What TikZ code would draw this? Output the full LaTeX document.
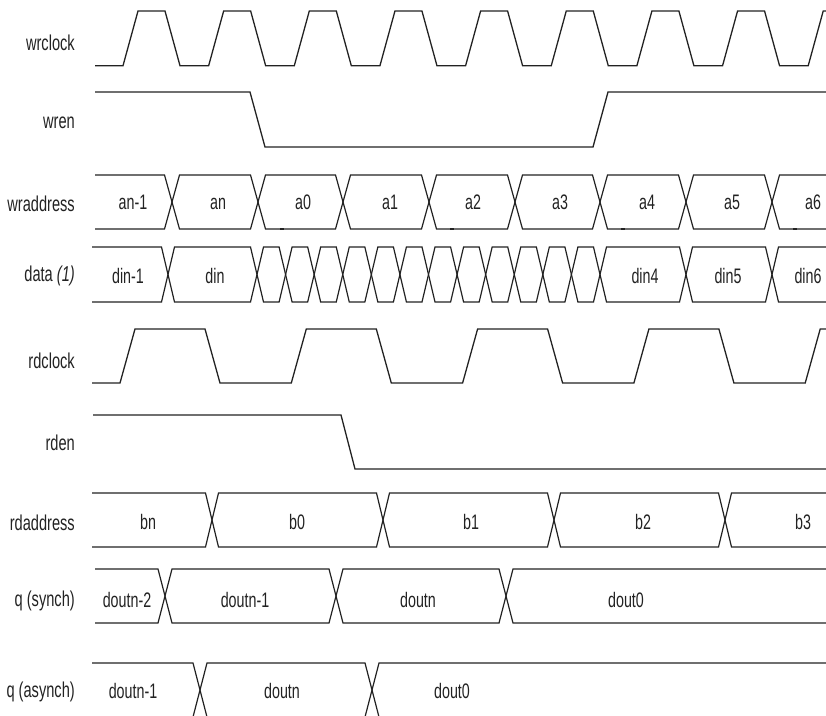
\documentclass[tikz,border=0pt]{standalone}
\usepackage{fontspec}
\setmainfont{Liberation Sans}[FakeStretch=0.68]
\usepackage{tikz}
\usetikzlibrary{positioning}
\definecolor{waveInk}{RGB}{34,34,34}
\tikzset{
  % clock and enable traces
  wave/.style={draw=waveInk, line width=1.3pt, line join=miter},
  % outline of one bus value slot
  busline/.style={draw=waveInk, line width=1.2pt, line join=miter},
  % small marks sitting on the wraddress bottom edge
  tick/.style={draw=waveInk, line width=2.4pt},
  % signal names at the left
  signame/.style={font=\fontsize{21.5}{24}\selectfont, text=waveInk, anchor=base east, inner sep=0pt},
  % values written inside a bus slot
  busval/.style={font=\fontsize{21}{24}\selectfont, text=waveInk, anchor=base, inner sep=0pt},
}
% half width of a bus crossing
\def\busw{7}
% first slot of a bus: flat start at #1, crossing at #2, top #3, bottom #4
\newcommand{\busfirst}[4]{%
  \draw[busline] ({#1},{#3}) -- ({#2-\busw},{#3}) -- ({#2},{(#3+#4)/2})
    -- ({#2-\busw},{#4}) -- ({#1},{#4});}
% one slot of a bus between crossings #1 and #2, top #3, bottom #4
\newcommand{\busslot}[4]{%
  \draw[busline] ({#1},{(#3+#4)/2}) -- ({#1+\busw},{#3}) -- ({#2-\busw},{#3}) -- ({#2},{(#3+#4)/2})
    -- ({#2-\busw},{#4}) -- ({#1+\busw},{#4}) -- cycle;}

\begin{document}
\begin{tikzpicture}[x=1pt, y=-1pt]
\useasboundingbox (0,0) rectangle (826,715);

% ===========================================================================
% SIGNAL NAMES
% ===========================================================================
\node[signame] (n_wrclock)   at (75,50)  {wrclock};
\node[signame] (n_wren)      at (75,128) {wren};
\node[signame] (n_wraddress) at (75,211) {wraddress};
\node[signame] (n_data)      at (75,281) {data \textit{(1)}};
\node[signame] (n_rdclock)   at (75,368) {rdclock};
\node[signame] (n_rden)      at (75,450) {rden};
\node[signame] (n_rdaddress) at (75,530) {rdaddress};
\node[signame] (n_qsync)     at (75,606) {q (synch)};
\node[signame] (n_qasync)    at (75,697) {q (asynch)};

\begin{scope}
\clip (0,0) rectangle (826,715);

% ===========================================================================
% WRITE SIDE: wrclock, wren
% ===========================================================================
\draw[wave] (95,65.7) -- (123,65.7)
  \foreach \k in {0,...,8} { -- ++(15,-54.7) -- ++(27,0) -- ++(15,54.7) -- ++(28.65,0) };
\draw[wave] (95,92) -- (250,92) -- (265,147) -- (593,147) -- (608,92) -- (826,92);

% ===========================================================================
% wraddress
% ===========================================================================
\def\busw{7.5}
\busfirst{95}{172}{175}{229}
\foreach \a/\b in {172/258, 258/343, 343/429, 429/515, 515/600, 600/686, 686/772, 772/858}
  {\busslot{\a}{\b}{175}{229}}
\foreach \x in {282, 452, 623, 795}
  \draw[tick] (\x-2,229) -- (\x+2,229);
\foreach \x/\t [count=\i] in {133/an-1, 218/an, 303/a0, 390/a1, 473/a2, 560/a3, 647/a4, 732/a5, 813/a6}
  \node[busval] (wa\i) at (\x,209) {\t};

% ===========================================================================
% data (1): known words, then changing data while wren is low
% ===========================================================================
\def\busw{6.5}
\busfirst{92}{168}{247}{302}
\busslot{168}{257}{247}{302}
\foreach \k in {0,...,11}
  {\busslot{257+28.583*\k}{257+28.583*(\k+1)}{247}{302}}
\foreach \a/\b in {600/686, 686/772, 772/858}
  {\busslot{\a}{\b}{247}{302}}
\foreach \x/\t [count=\i] in {128/din-1, 215/din, 645/din4, 728/din5, 808/din6}
  \node[busval] (d\i) at (\x,283) {\t};

% ===========================================================================
% READ SIDE: rdclock, rden
% ===========================================================================
\draw[wave] (92,383) -- (120,383)
  \foreach \k in {0,...,4} { -- ++(15,-54) -- ++(70,0) -- ++(15,54) -- ++(71.3,0) };
\draw[wave] (93,415) -- (341,415) -- (355,469) -- (826,469);

% ===========================================================================
% rdaddress
% ===========================================================================
\def\busw{6.5}
\busfirst{92}{212}{493}{547}
\foreach \a/\b in {212/383, 383/554, 554/725, 725/896}
  {\busslot{\a}{\b}{493}{547}}
\foreach \x/\t [count=\i] in {148/bn, 297/b0, 471/b1, 643/b2, 803/b3}
  \node[busval] (ra\i) at (\x,529) {\t};

% ===========================================================================
% q (synch) and q (asynch)
% ===========================================================================
\def\busw{7}
\busfirst{95}{165}{569}{623}
\foreach \a/\b in {165/336, 336/506, 506/900}
  {\busslot{\a}{\b}{569}{623}}
\foreach \x/\t [count=\i] in {127/doutn-2, 245/doutn-1, 418/doutn, 626/dout0}
  \node[busval] (qs\i) at (\x,607) {\t};

\busfirst{92}{200}{663}{717}
\foreach \a/\b in {200/372, 372/900}
  {\busslot{\a}{\b}{663}{717}}
\foreach \x/\t [count=\i] in {133/doutn-1, 282/doutn, 452/dout0}
  \node[busval] (qa\i) at (\x,698) {\t};
\end{scope}

\end{tikzpicture}
\end{document}
